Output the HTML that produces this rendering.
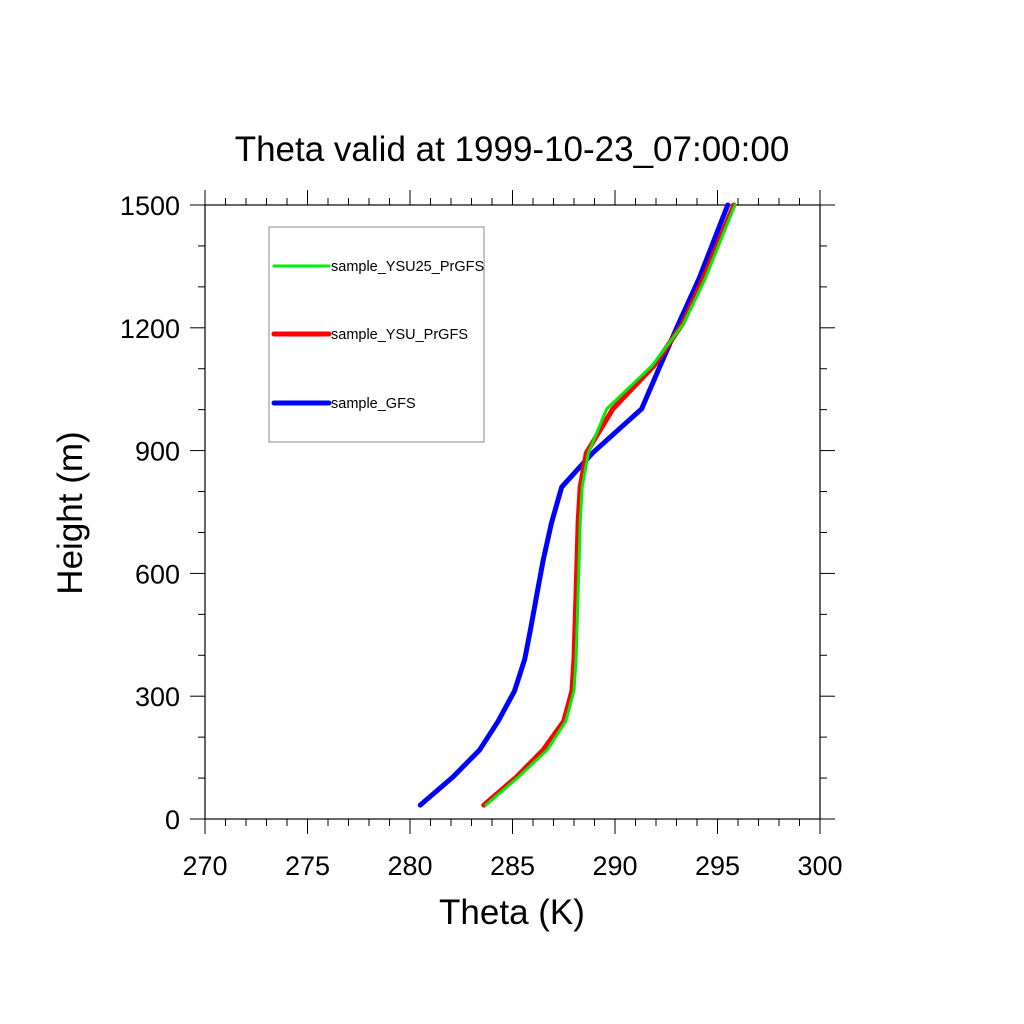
<!DOCTYPE html>
<html><head><meta charset="utf-8"><style>body{margin:0;background:#fff}svg{display:block}text{font-family:"Liberation Sans",sans-serif}</style></head>
<body>
<svg id="chart" width="1024" height="1024" viewBox="0 0 1024 1024">
<rect width="1024" height="1024" fill="#fff"/>
<text x="512" y="161" font-size="35" text-anchor="middle">Theta valid at 1999-10-23_07:00:00</text>
<g id="axes"></g>
<g id="series"></g>
<text x="512" y="924" font-size="35" text-anchor="middle">Theta (K)</text>
<text transform="translate(82,513) rotate(-90)" font-size="35" text-anchor="middle">Height (m)</text>
<g>
<rect x="269" y="227" width="215" height="215" fill="none" stroke="#888" stroke-width="1"/>
<line x1="274" y1="266" x2="329" y2="266" stroke="#00ee00" stroke-width="3" stroke-linecap="round"/>
<text x="331" y="271" font-size="14.5">sample_YSU25_PrGFS</text>
<line x1="274" y1="334" x2="329" y2="334" stroke="#ff0000" stroke-width="5" stroke-linecap="round"/>
<text x="331" y="339" font-size="14.5">sample_YSU_PrGFS</text>
<line x1="274" y1="403" x2="329" y2="403" stroke="#0000ff" stroke-width="5" stroke-linecap="round"/>
<text x="331" y="408" font-size="14.5">sample_GFS</text>
</g>
</svg>
<script>
const heights = [34,103,169,239,313,391,469,552,633,723,811,894,1002,1107,1210,1320,1500];
const gfs   = [280.5,282.1,283.4,284.3,285.1,285.6,285.9,286.2,286.5,286.9,287.4,288.9,291.3,292.2,293.1,294.1,295.5];
const ysu   = [283.6,285.2,286.5,287.5,287.9,288.0,288.05,288.1,288.15,288.2,288.3,288.6,289.9,291.9,293.3,294.3,295.8];
const ysu25 = [283.7,285.3,286.7,287.6,288.0,288.1,288.15,288.2,288.25,288.3,288.4,288.7,289.6,291.8,293.35,294.4,295.85];
const xTicks = [270,275,280,285,290,295,300];
const yTicks = [0,300,600,900,1200,1500];
const L=205,R=820,T=205,B=819;
const xs=v=>L+(v-270)/30*(R-L);
const ys=v=>B-v/1500*(B-T);
const NS="http://www.w3.org/2000/svg";
const ax=document.getElementById('axes');
function ln(x1,y1,x2,y2,w,name){const e=document.createElementNS(NS,'line');
e.setAttribute('x1',x1);e.setAttribute('y1',y1);e.setAttribute('x2',x2);e.setAttribute('y2',y2);
e.setAttribute('stroke','#000');e.setAttribute('stroke-width',w);


ax.appendChild(e);}
const fr=document.createElementNS(NS,'rect');
fr.setAttribute('x',L);fr.setAttribute('y',T);fr.setAttribute('width',R-L);fr.setAttribute('height',B-T);
fr.setAttribute('fill','none');fr.setAttribute('stroke','#000');fr.setAttribute('stroke-width','1.2');


ax.appendChild(fr);
for(let k=270;k<=300;k++){const x=xs(k);const m=(k%5===0);const len=m?15:7;
ln(x,B,x,B+len,1,'x-tick');ln(x,T,x,T-len,1,'x-tick-top');}
for(let h=0;h<=1500;h+=100){const y=ys(h);const m=(h%300===0);const len=m?15:7;
ln(L,y,L-len,y,1,'y-tick');ln(R,y,R+len,y,1,'y-tick-right');}
xTicks.forEach(v=>{const t=document.createElementNS(NS,'text');t.setAttribute('x',xs(v));t.setAttribute('y',875);
t.setAttribute('font-size','27');t.setAttribute('text-anchor','middle');t.textContent=v;


ax.appendChild(t);});
yTicks.forEach(v=>{const t=document.createElementNS(NS,'text');t.setAttribute('x',180);t.setAttribute('y',ys(v)+10);
t.setAttribute('font-size','27');t.setAttribute('text-anchor','end');t.textContent=v;


ax.appendChild(t);});
const sg=document.getElementById('series');
function series(vals,color,w,name){const p=document.createElementNS(NS,'polyline');
p.setAttribute('points',vals.map((v,i)=>xs(v)+','+ys(heights[i])).join(' '));
p.setAttribute('fill','none');p.setAttribute('stroke',color);p.setAttribute('stroke-width',w);
p.setAttribute('stroke-linecap','round');p.setAttribute('stroke-linejoin','round');


sg.appendChild(p);}
series(gfs,'#0000ff',5,'line-gfs');
series(ysu,'#ff0000',5,'line-ysu');
series(ysu25,'#00ee00',3,'line-ysu25');
</script>
</body></html>
